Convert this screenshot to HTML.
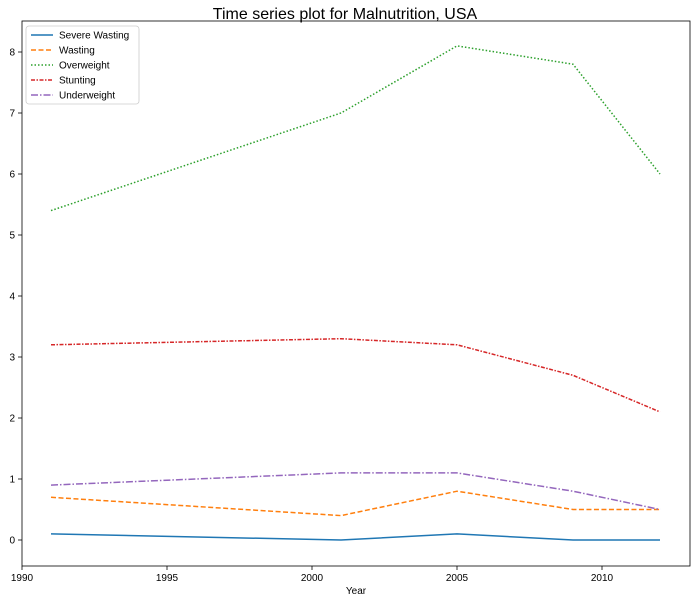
<!DOCTYPE html>
<html><head><meta charset="utf-8"><style>
body{margin:0;background:#fff;font-family:"Liberation Sans",sans-serif;}
</style></head><body>
<svg id="chart" width="697" height="603" xmlns="http://www.w3.org/2000/svg">
<text x="345" y="19" text-anchor="middle" font-size="16">Time series plot for Malnutrition, USA</text>
<rect x="22" y="21" width="668" height="545" fill="none" stroke="#000" stroke-width="0.8"/>
<g id="axes"></g>
<g id="lines"></g>
<text x="356" y="594" text-anchor="middle" font-size="10">Year</text>
<g id="legend"></g>
</svg>
<script>
const years = [1991, 2001, 2005, 2009, 2012];
const severeWasting = [0.1, 0.0, 0.1, 0.0, 0.0];
const wasting = [0.7, 0.4, 0.8, 0.5, 0.5];
const overweight = [5.4, 7.0, 8.1, 7.8, 6.0];
const stunting = [3.2, 3.3, 3.2, 2.7, 2.1];
const underweight = [0.9, 1.1, 1.1, 0.8, 0.5];
const xTicks = [1990, 1995, 2000, 2005, 2010];
const yTicks = [0, 1, 2, 3, 4, 5, 6, 7, 8];
const seriesNames = ["Severe Wasting", "Wasting", "Overweight", "Stunting", "Underweight"];

const NS = "http://www.w3.org/2000/svg";
function xs(v){ return 22 + (v - 1990) * 29; }
function ys(v){ return 540 - v * 61; }
function mk(tag, attrs, parent){ const e = document.createElementNS(NS, tag); for (const k in attrs) e.setAttribute(k, attrs[k]); parent.appendChild(e); return e; }

const axes = document.getElementById('axes');
xTicks.forEach(t => {
  const l = mk('line', {x1: xs(t), x2: xs(t), y1: 566, y2: 570, stroke: '#000', 'stroke-width': 0.8}, axes);
  
  
  const tx = mk('text', {x: xs(t), y: 581, 'text-anchor': 'middle', 'font-size': 10}, axes);
  tx.textContent = t;
  
  
});
yTicks.forEach(t => {
  const l = mk('line', {x1: 18, x2: 22, y1: ys(t), y2: ys(t), stroke: '#000', 'stroke-width': 0.8}, axes);
  
  
  const tx = mk('text', {x: 15, y: ys(t) + 3.5, 'text-anchor': 'end', 'font-size': 10}, axes);
  tx.textContent = t;
  
  
});

const series = [severeWasting, wasting, overweight, stunting, underweight];
const colors = ['#1f77b4', '#ff7f0e', '#2ca02c', '#d62728', '#9467bd'];
const dashes = ['', '5,2.5', '1.5,2', '4,1.5,1.5,1.5', '7,2,1.5,2'];
const linesG = document.getElementById('lines');
series.forEach((s, i) => {
  const p = mk('polyline', {points: s.map((v, j) => xs(years[j]) + ',' + ys(v)).join(' '), fill: 'none', stroke: colors[i], 'stroke-width': 1.5, 'stroke-dasharray': dashes[i]}, linesG);
  
  
});

const lg = document.getElementById('legend');
const box = mk('rect', {x: 26, y: 26, width: 113, height: 78, rx: 3, fill: '#fff', stroke: '#ccc', 'stroke-width': 0.8}, lg);


seriesNames.forEach((n, i) => {
  const y = 35 + i * 15;
  const l = mk('line', {x1: 31, x2: 53, y1: y, y2: y, stroke: colors[i], 'stroke-width': 1.5, 'stroke-dasharray': dashes[i]}, lg);
  
  
  const t = mk('text', {x: 59, y: y + 3.5, 'font-size': 10}, lg);
  t.textContent = n;
  
  
});
</script>
</body></html>
